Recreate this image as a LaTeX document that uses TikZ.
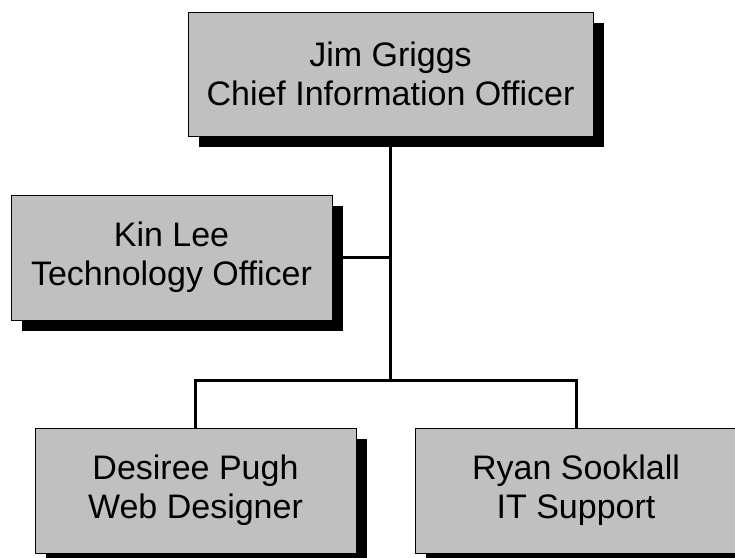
\documentclass[tikz,border=0pt]{standalone}
\usepackage{fontspec}
\setmainfont{Liberation Sans}
\usetikzlibrary{shadows}
\definecolor{boxgray}{HTML}{C0C0C0}
\begin{document}
\begin{tikzpicture}[x=1pt,y=-1pt,
  orgbox/.style={draw=black, line width=0.9pt, fill=boxgray, inner sep=0pt,
    minimum height=125pt, align=center,
    font=\fontsize{34}{39}\selectfont,
    drop shadow={shadow xshift=11pt, shadow yshift=-11pt, fill=black, opacity=1}},
  link/.style={line width=3pt, draw=black}]
\useasboundingbox (0,0) rectangle (735,557);
\node[orgbox, minimum width=405pt, minimum height=124pt] (cio) at (390.5,74) {Jim Griggs\\Chief Information Officer};
\node[orgbox, minimum width=321pt] (kin) at (171.5,257.5) {Kin Lee\\Technology Officer};
\node[orgbox, minimum width=321pt] (des) at (195.5,490.5) {Desiree Pugh\\Web Designer};
\node[orgbox, minimum width=322pt] (ryan) at (576,490.5) {Ryan Sooklall\\IT Support};
\coordinate (j) at (390.5,380);
\begin{scope}[on background layer/.try]
\end{scope}
\draw[link] (cio.south) -- (j);
\draw[link] (kin.east) -- (kin.east -| cio.south);
\draw[link] (des.north) -- (des.north |- j) -- (ryan.north |- j) -- (ryan.north);
\end{tikzpicture}
\end{document}
